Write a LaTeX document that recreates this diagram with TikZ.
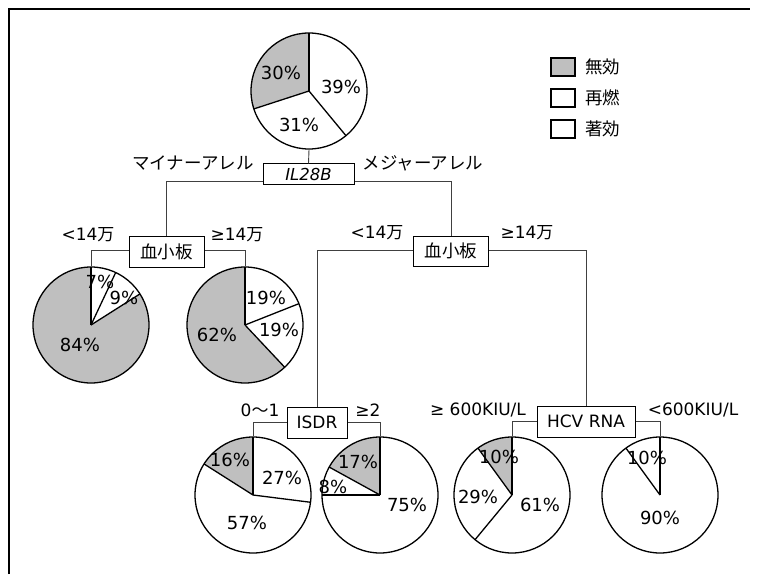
\documentclass[tikz,border=0pt]{standalone}
\usepackage{fontspec}
\setmainfont{DejaVu Sans}
\newfontfamily\jp{Noto Sans CJK JP}
\newcommand\pieshade[3]{\fill[shade] (#1) -- ++(#2:58pt) arc[start angle=#2,end angle=#3,radius=58pt] -- cycle;}
\newcommand\pierad[2]{\draw[rad] (#1.center) -- ++(#2:58pt);}
\begin{document}
\begin{tikzpicture}[x=1pt,y=1pt,
  pie/.style={circle,draw,line width=1.3pt,minimum size=116pt,inner sep=0pt},
  pct/.style={font=\fontsize{18}{20}\selectfont,inner sep=0pt},
  lab/.style={font=\fontsize{17}{20}\selectfont,inner sep=0pt},
  jlab/.style={font=\jp\fontsize{17.5}{20}\selectfont,inner sep=0pt},
  box/.style={draw,line width=1pt,inner sep=0pt,fill=white},
  conn/.style={line width=0.9pt,black!75},
  rad/.style={line width=1.3pt},
  shade/.style={fill=black!25},
  legbox/.style={draw,line width=1.2pt,minimum width=24pt,minimum height=18pt,inner sep=0pt}
]
\useasboundingbox (0,0) rectangle (757,574);
\fill[white] (0,0) rectangle (757,574);
% frame
\draw[line width=1.2pt] (9,0) -- (9,565) -- (750,565);

% ---------- pies ----------
\coordinate (c0) at (309,483);
\coordinate (c1) at (91,249);
\coordinate (c2) at (245,249);
\coordinate (c3) at (253,79);
\coordinate (c4) at (380,79);
\coordinate (c5) at (512,79);
\coordinate (c6) at (660,79);
\pieshade{c0}{90}{198}
\pieshade{c1}{90}{392.4}
\pieshade{c2}{90}{313.2}
\pieshade{c3}{90}{147.6}
\pieshade{c4}{90}{151.2}
\pieshade{c5}{90}{126}
\node[pie] (p0) at (c0) {};
\node[pie] (p1) at (c1) {};
\node[pie] (p2) at (c2) {};
\node[pie] (p3) at (c3) {};
\node[pie] (p4) at (c4) {};
\node[pie] (p5) at (c5) {};
\node[pie] (p6) at (c6) {};
\pierad{p0}{90}\pierad{p0}{-50.4}\pierad{p0}{198}
\pierad{p1}{90}\pierad{p1}{64.8}\pierad{p1}{32.4}
\pierad{p2}{90}\pierad{p2}{21.6}\pierad{p2}{-46.8}
\pierad{p3}{90}\pierad{p3}{-7.2}\pierad{p3}{147.6}
\pierad{p4}{90}\pierad{p4}{151.2}\pierad{p4}{180}
\pierad{p5}{90}\pierad{p5}{126}\pierad{p5}{230.4}
\pierad{p6}{90}\pierad{p6}{126}

% percentages
\node[pct] (t0a) at (281,501) {30\%};
\node[pct] (t0b) at (341,487) {39\%};
\node[pct] (t0c) at (299,449) {31\%};
\node[pct] (t1a) at (100,292) {7\%};
\node[pct] (t1b) at (124,276) {9\%};
\node[pct] (t1c) at (80,229) {84\%};
\node[pct] (t2a) at (266,276) {19\%};
\node[pct] (t2b) at (279,244) {19\%};
\node[pct] (t2c) at (217,239) {62\%};
\node[pct] (t3a) at (230,114) {16\%};
\node[pct] (t3b) at (282,96) {27\%};
\node[pct] (t3c) at (247,51) {57\%};
\node[pct] (t4a) at (358,112) {17\%};
\node[pct] (t4b) at (333,87) {8\%};
\node[pct] (t4c) at (407,69) {75\%};
\node[pct] (t5a) at (499,117) {10\%};
\node[pct] (t5b) at (478,77) {29\%};
\node[pct] (t5c) at (540,69) {61\%};
\node[pct] (t6a) at (647,116) {10\%};
\node[pct] (t6b) at (660,56) {90\%};

% ---------- boxes ----------
\node[box,minimum width=91pt,minimum height=21pt,font=\itshape\fontsize{16.5}{18}\selectfont] (il) at (308.5,399.5) {IL28B};
\node[box,minimum width=75pt,minimum height=31pt,font=\jp\fontsize{17.5}{20}\selectfont] (b1) at (166.5,322.5) {血小板};
\node[box,minimum width=75pt,minimum height=30pt,font=\jp\fontsize{17.5}{20}\selectfont] (b2) at (451,323) {血小板};
\node[box,minimum width=60pt,minimum height=31pt,font=\fontsize{17}{20}\selectfont] (isdr) at (317,151.5) {ISDR};
\node[box,minimum width=98pt,minimum height=31pt,font=\fontsize{17}{20}\selectfont] (hcv) at (586,152.5) {HCV RNA};

% ---------- connectors ----------
\draw[conn] (p0.south) -- (il.north);
\draw[conn] ([yshift=-6.5pt]il.west) -| (b1.north);
\draw[conn] ([yshift=-6.5pt]il.east) -| (b2.north);
\draw[conn] ([yshift=1.5pt]b1.west) -| (p1.north);
\draw[conn] ([yshift=1.5pt]b1.east) -| (p2.north);
\draw[conn] ([yshift=1pt]b2.west) -| (isdr.north);
\draw[conn] ([yshift=1pt]b2.east) -| (hcv.north);
\draw[conn] (isdr.west) -| (p3.north);
\draw[conn] (isdr.east) -| (p4.north);
\draw[conn] (hcv.west) -| (p5.north);
\draw[conn] (hcv.east) -| (p6.north);

% ---------- branch labels ----------
\node[jlab] (m1) at (193,411) {マイナーアレル};
\node[jlab] (m2) at (423,411) {メジャーアレル};
\node[lab] (l1) at (88,339) {<14{\jp 万}};
\node[lab] (l2) at (237,339) {≥14{\jp 万}};
\node[lab] (l3) at (377,341) {<14{\jp 万}};
\node[lab] (l4) at (527,341) {≥14{\jp 万}};
\node[lab] (l5) at (260,164) {0{\jp 〜}1};
\node[lab] (l6) at (368,164) {≥2};
\node[lab] (l7) at (478,164) {≥ 600KIU/L};
\node[lab] (l8) at (693,164) {<600KIU/L};

% ---------- legend ----------
\node[legbox,fill=black!25] (g1) at (563,507) {};
\node[legbox] (g2) at (563,476) {};
\node[legbox] (g3) at (563,445) {};
\node[jlab,anchor=west] (g1t) at (585,507) {無効};
\node[jlab,anchor=west] (g2t) at (585,476) {再燃};
\node[jlab,anchor=west] (g3t) at (585,445) {著効};
\end{tikzpicture}
\end{document}
